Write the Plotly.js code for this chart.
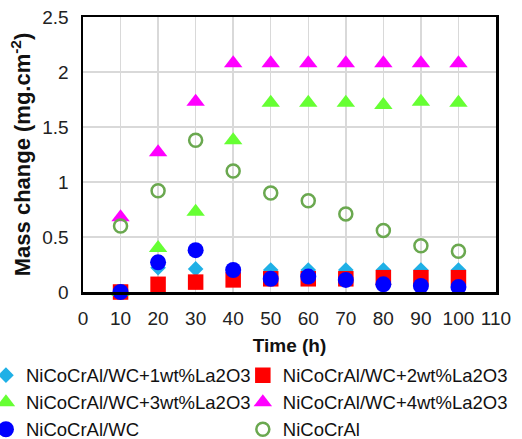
<!DOCTYPE html>
<html>
<head>
<meta charset="utf-8">
<script src="https://cdn.plot.ly/plotly-3.0.1.min.js"></script>
<style>html,body{margin:0;padding:0;background:#fff;}#chart{width:522px;height:439px;}</style>
</head>
<body>
<div id="chart"></div>
<script>
const time = [10, 20, 30, 40, 50, 60, 70, 80, 90, 100];
const la1 = [0, 0.22, 0.21, 0.2, 0.2, 0.2, 0.2, 0.2, 0.2, 0.2];
const la2 = [0, 0.07, 0.09, 0.11, 0.12, 0.12, 0.12, 0.13, 0.13, 0.13];
const la3 = [0, 0.40, 0.73, 1.38, 1.72, 1.72, 1.72, 1.70, 1.73, 1.72];
const la4 = [0.68, 1.27, 1.73, 2.08, 2.08, 2.08, 2.08, 2.08, 2.08, 2.08];
const wc = [0, 0.27, 0.38, 0.20, 0.12, 0.14, 0.11, 0.07, 0.055, 0.045];
const ncca = [0.60, 0.92, 1.38, 1.10, 0.90, 0.83, 0.71, 0.56, 0.42, 0.37];
const names = ['NiCoCrAl/WC+1wt%La2O3', 'NiCoCrAl/WC+2wt%La2O3', 'NiCoCrAl/WC+3wt%La2O3', 'NiCoCrAl/WC+4wt%La2O3', 'NiCoCrAl/WC', 'NiCoCrAl'];

const FONT = 'Liberation Sans, Arial, sans-serif';
function tr(y, name, symbol, color, size, leg) {
  return {
    x: time, y: y, name: name, type: 'scatter', mode: 'markers', cliponaxis: false,
    legend: leg,
    marker: {symbol: symbol, color: color, size: size, line: {width: 0}}
  };
}
const data = [
  tr(la1, names[0], 'diamond', '#1fb0e6', 12, 'legend'),
  tr(la2, names[1], 'square', '#ff0000', 15.5, 'legend2'),
  tr(la3, names[2], 'triangle-up', '#66ff33', 16, 'legend'),
  tr(la4, names[3], 'triangle-up', '#ff00ff', 16, 'legend2'),
  tr(wc, names[4], 'circle', '#0000ff', 16, 'legend'),
  {x: time, y: ncca, name: names[5], type: 'scatter', mode: 'markers', cliponaxis: false,
   legend: 'legend2',
   marker: {symbol: 'circle-open', color: '#6aa84f', size: 13, line: {width: 2.5, color: '#6aa84f'}}}
];
const legendBase = {
  orientation: 'v', xanchor: 'left', y: -0.235, yanchor: 'top',
  font: {size: 18.5, color: '#111'}, tracegroupgap: 0, itemwidth: 30,
  bgcolor: 'rgba(0,0,0,0)', traceorder: 'normal'
};
const layout = {
  width: 522, height: 439,
  margin: {l: 83, r: 26, t: 17, b: 147, autoexpand: false},
  paper_bgcolor: '#fff', plot_bgcolor: '#fff',
  font: {family: FONT, size: 19, color: '#222'},
  xaxis: {
    range: [0, 110], dtick: 10, tick0: 0,
    showgrid: true, gridcolor: '#d9d9d9', gridwidth: 1.5,
    showline: true, linecolor: '#000', linewidth: 2.5, mirror: true,
    zeroline: false, ticks: '', ticklabelstandoff: 8,
    tickfont: {size: 19, color: '#222'},
    title: {text: '<b>Time (h)</b>', font: {size: 19, color: '#111'}, standoff: 11}
  },
  yaxis: {
    range: [0, 2.5], dtick: 0.5, tick0: 0,
    showgrid: true, gridcolor: '#d9d9d9', gridwidth: 1.5,
    showline: true, linecolor: '#000', linewidth: 2.5, mirror: true,
    zeroline: false, ticks: '', ticklabelstandoff: 8,
    tickfont: {size: 19, color: '#222'},
    title: {text: '<b>Mass change (mg.cm<sup>-2</sup>)</b>', font: {size: 22, color: '#111'}, standoff: 6}
  },
  showlegend: true,
  legend: Object.assign({}, legendBase, {x: -0.235}),
  legend2: Object.assign({}, legendBase, {x: 0.387})
};
Plotly.newPlot('chart', data, layout, {displayModeBar: false, staticPlot: true});
</script>
</body>
</html>
